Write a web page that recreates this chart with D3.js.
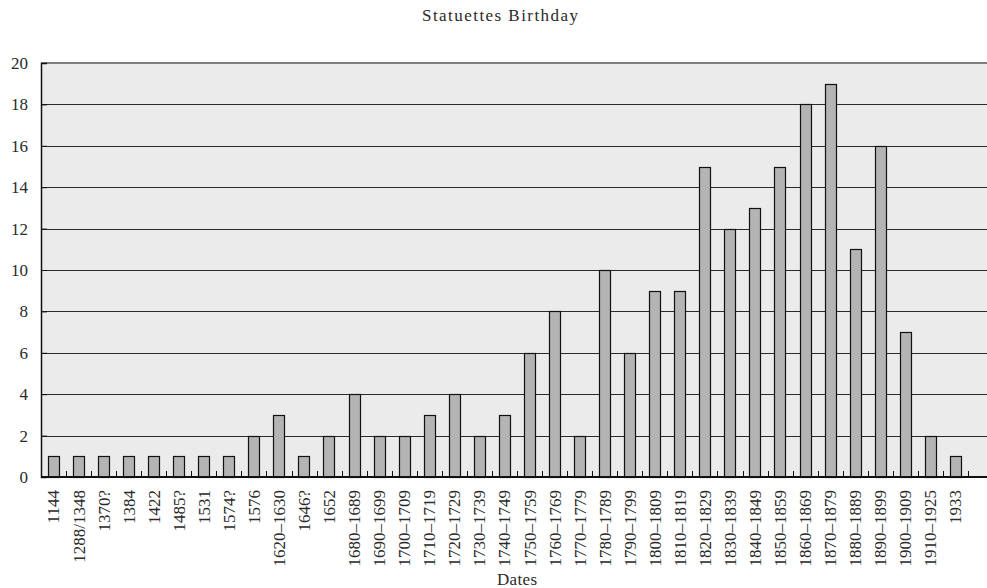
<!DOCTYPE html>
<html>
<head>
<meta charset="utf-8">
<script src="https://cdn.jsdelivr.net/npm/d3@7"></script>
<style>
body { margin: 0; background: #fff; }
text { font-family: "Liberation Serif", serif; fill: #2a2a2a; }
</style>
</head>
<body>
<div id="chart"></div>
<script>
// data
var dates = ["1144", "1288/1348", "1370?", "1384", "1422", "1485?", "1531", "1574?", "1576",
	"1620–1630", "1646?", "1652", "1680–1689", "1690–1699", "1700–1709", "1710–1719",
	"1720–1729", "1730–1739", "1740–1749", "1750–1759", "1760–1769", "1770–1779",
	"1780–1789", "1790–1799", "1800–1809", "1810–1819", "1820–1829", "1830–1839",
	"1840–1849", "1850–1859", "1860–1869", "1870–1879", "1880–1889", "1890–1899",
	"1900–1909", "1910–1925", "1933"];
var counts = [1, 1, 1, 1, 1, 1, 1, 1, 2, 3, 1, 2, 4, 2, 2, 3, 4, 2, 3, 6, 8, 2, 10, 6, 9, 9,
	15, 12, 13, 15, 18, 19, 11, 16, 7, 2, 1];
var yTicks = [0, 2, 4, 6, 8, 10, 12, 14, 16, 18, 20];

var width = 987, height = 588;
var margin = { top: 63, left: 41, bottom: 111 };
var plotRight = 968;
var fontSize = 17;

var svg = d3.select("#chart").append("svg")
	.attr("width", width).attr("height", height);

var x = d3.scaleBand().domain(dates).range([margin.left, plotRight]).padding(0);
var y = d3.scaleLinear().domain([0, 20]).range([height - margin.bottom, margin.top]);

// plot background
svg.append("rect")
	.attr("x", margin.left).attr("y", y(20))
	.attr("width", width - margin.left).attr("height", y(0) - y(20))
	.attr("fill", "#ebebeb");

// grid lines
svg.append("g").selectAll("line")
	.data(yTicks.filter(function(d) { return d > 0 && d < 20; }))
	.enter().append("line")
	.attr("x1", margin.left).attr("x2", width)
	.attr("y1", function(d) { return Math.round(y(d)) + 0.5; })
	.attr("y2", function(d) { return Math.round(y(d)) + 0.5; })
	.attr("stroke", "#2a2a2a").attr("stroke-width", 1);

// top border
svg.append("line")
	.attr("x1", margin.left).attr("x2", width)
	.attr("y1", y(20)).attr("y2", y(20))
	.attr("stroke", "#7f7f7f").attr("stroke-width", 2);

// bars
var barW = x.bandwidth() * 0.45;
svg.append("g").selectAll("rect")
	.data(d3.zip(dates, counts))
	.enter().append("rect")
	.attr("x", function(d) { return Math.round(x(d[0]) + x.bandwidth() / 2 - barW / 2) + 0.5; })
	.attr("y", function(d) { return Math.round(y(d[1])) + 0.5; })
	.attr("width", Math.round(barW))
	.attr("height", function(d) { return Math.round(y(0)) - Math.round(y(d[1])); })
	.attr("fill", "#b4b4b4")
	.attr("stroke", "#111").attr("stroke-width", 1.2);

// y axis
var yAxis = svg.append("g")
	.attr("transform", "translate(" + margin.left + ",0)")
	.call(d3.axisLeft(y).tickValues(yTicks).tickSize(-6).tickPadding(13));
yAxis.attr("font-size", null).attr("font-family", null);
yAxis.select(".domain").attr("stroke", "#111").attr("stroke-width", 1.5);
yAxis.selectAll(".tick line").attr("stroke", "#111");
yAxis.selectAll("text").attr("font-size", fontSize).attr("fill", "#2a2a2a");

// x axis: ticks on category boundaries, pointing up
var bounds = dates.map(function(d) { return x(d); }).concat([plotRight]);
svg.append("g").selectAll("line")
	.data(bounds)
	.enter().append("line")
	.attr("x1", function(d) { return Math.round(d) + 0.5; })
	.attr("x2", function(d) { return Math.round(d) + 0.5; })
	.attr("y1", y(0)).attr("y2", y(0) - 6)
	.attr("stroke", "#111");
svg.append("line")
	.attr("x1", margin.left).attr("x2", width)
	.attr("y1", y(0)).attr("y2", y(0))
	.attr("stroke", "#111").attr("stroke-width", 2);

// x labels rotated
svg.append("g").selectAll("text")
	.data(dates)
	.enter().append("text")
	.attr("transform", function(d) {
		return "translate(" + (x(d) + x.bandwidth() / 2) + "," + (y(0) + 13) + ") rotate(-90)";
	})
	.attr("text-anchor", "end")
	.attr("dy", "0.35em")
	.attr("font-size", fontSize)
	.text(function(d) { return d; });

// title and axis title
svg.append("text")
	.attr("x", 500).attr("y", 21)
	.attr("text-anchor", "middle")
	.attr("font-size", fontSize)
	.attr("textLength", 156)
	.attr("lengthAdjust", "spacing")
	.text("Statuettes Birthday");

svg.append("text")
	.attr("x", 517).attr("y", 585)
	.attr("text-anchor", "middle")
	.attr("font-size", fontSize)
	.attr("textLength", 40)
	.attr("lengthAdjust", "spacing")
	.text("Dates");
</script>
</body>
</html>
